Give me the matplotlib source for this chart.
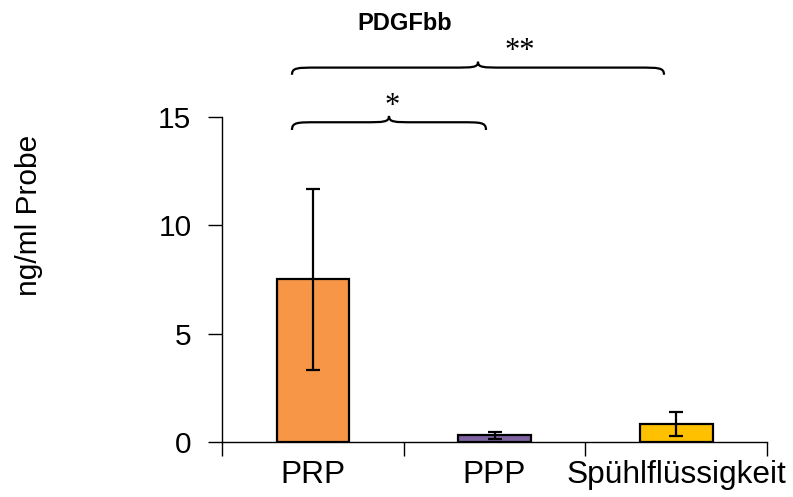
import matplotlib
matplotlib.use("Agg")
import matplotlib.pyplot as plt
from matplotlib.path import Path
from matplotlib.patches import PathPatch
import numpy as np

plt.rcParams['font.family'] = ['Liberation Sans', 'DejaVu Sans']

categories = ["PRP", "PPP", "Spühlflüssigkeit"]
values = [7.52, 0.32, 0.83]
errors = [4.18, 0.16, 0.55]
colors = ["#F79646", "#8064A2", "#FFC000"]
yticks = [0, 5, 10, 15]
title = "PDGFbb"
ylabel = "ng/ml Probe"
# significance braces: (start category, end category, label)
sig = [(0, 1, "*"), (0, 2, "**")]

fig = plt.figure(figsize=(7.93, 4.97), dpi=100)
ax = fig.add_axes([222/793, 1-442/497, (767-222)/793, (442-117)/497])

x = np.arange(len(categories))
ax.bar(x, values, width=0.4, color=colors, edgecolor="black", linewidth=1.6, zorder=2)
ax.errorbar(x, values, yerr=errors, fmt="none", ecolor="black", elinewidth=1.6,
            capsize=5, capthick=1.6, zorder=3)

ax.set_xlim(-0.5, 2.5)
ax.set_ylim(0, 15)
ax.set_yticks(yticks)
ax.set_xticks(x)
ax.set_xticklabels(categories)
ax.set_xticks([-0.5, 0.5, 1.5, 2.5], minor=True)
ax.tick_params(axis='x', which='major', length=0, labelsize=22.8, pad=13)
ax.tick_params(axis='x', which='minor', length=10, width=1, direction='out')
ax.tick_params(axis='y', length=10, width=1, direction='out', labelsize=21.5, pad=12)
for s in ["top", "right"]:
    ax.spines[s].set_visible(False)
for s in ["left", "bottom"]:
    ax.spines[s].set_linewidth(1)

fig.text(29/793, 1-215/497, ylabel, fontsize=21.5, rotation=90, ha='center', va='center')
fig.text(405/793, 1-24/497, title, fontsize=17, fontweight='bold', ha='center', va='center')


def brace(ax, x0, x1, y0, h, r=0.14):
    xm = (x0 + x1) / 2
    ym = y0 + h * 0.55
    yt = y0 + h
    verts = [
        (x0, y0), (x0, ym), (x0 + r * 0.2, ym), (x0 + r, ym),
        (xm - r, ym),
        (xm - r * 0.2, ym), (xm, ym), (xm, yt),
        (xm, ym), (xm + r * 0.2, ym), (xm + r, ym),
        (x1 - r, ym),
        (x1 - r * 0.2, ym), (x1, ym), (x1, y0),
    ]
    codes = [Path.MOVETO, Path.CURVE4, Path.CURVE4, Path.CURVE4,
             Path.LINETO,
             Path.CURVE4, Path.CURVE4, Path.CURVE4,
             Path.CURVE4, Path.CURVE4, Path.CURVE4,
             Path.LINETO,
             Path.CURVE4, Path.CURVE4, Path.CURVE4]
    p = PathPatch(Path(verts, codes), fill=False, edgecolor="black", linewidth=1.6,
                  clip_on=False, transform=ax.transData)
    ax.add_patch(p)

# brace 1: x 292..488 px, brace 2: 292..668 px
px = lambda v: (v - 222) / 181.67 - 0.5
brace(ax, px(292), px(486), 14.4, 0.65)
ax.text(px(392), 15.5, sig[0][2], fontsize=22, family='Liberation Serif',
        ha='center', va='center', clip_on=False)
brace(ax, px(292), px(664), 16.95, 0.6)
ax.text(px(520), 18.0, sig[1][2], fontsize=22, family='Liberation Serif',
        ha='center', va='center', clip_on=False)

fig.savefig("out.png", dpi=100)
